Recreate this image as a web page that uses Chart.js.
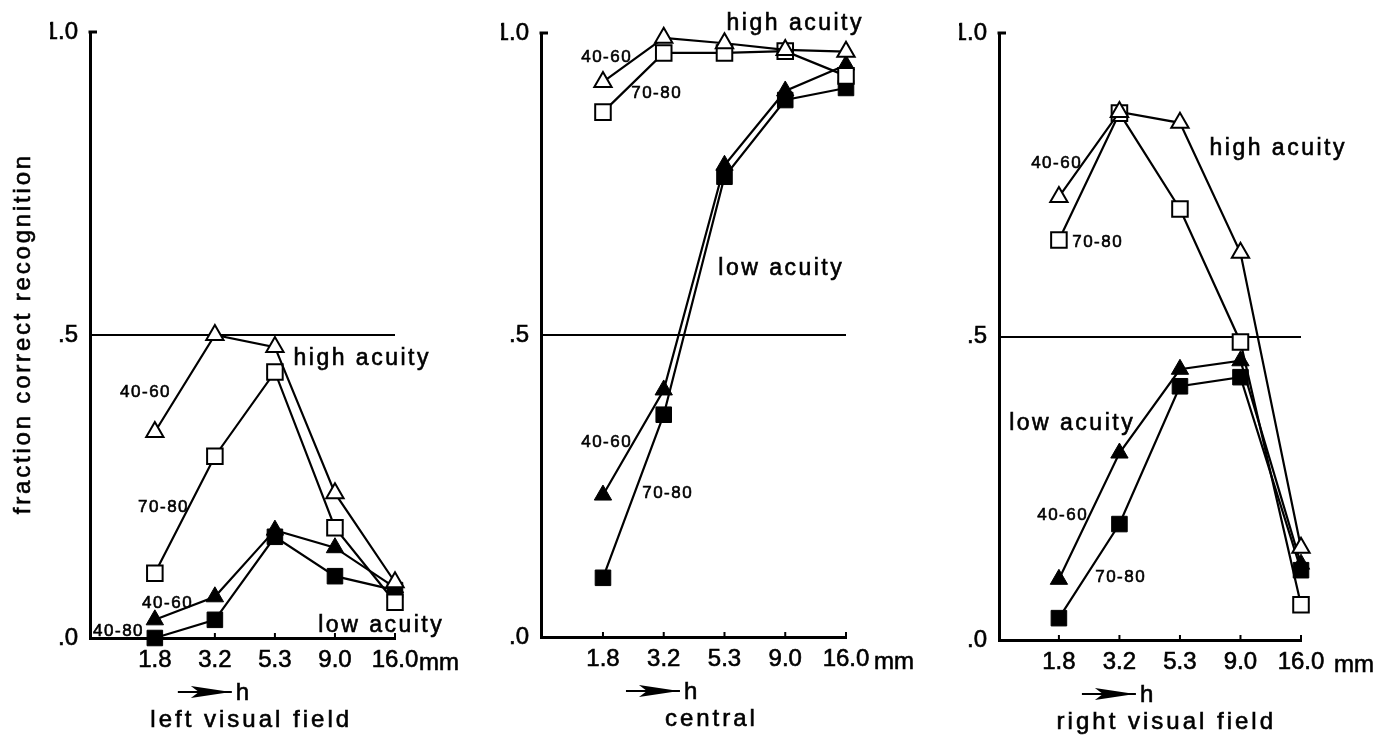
<!DOCTYPE html>
<html>
<head>
<meta charset="utf-8">
<title>Fraction correct recognition</title>
<script src="https://cdn.jsdelivr.net/npm/chart.js@4.4.0/dist/chart.umd.min.js"></script>
<style>
  html, body { margin: 0; padding: 0; background: #fff; }
  body { width: 1383px; height: 740px; position: relative; overflow: hidden; }
  canvas { position: absolute; top: 0; }
</style>
</head>
<body>
<canvas id="leftField" width="460" height="740" style="left:0px"></canvas>
<canvas id="centralField" width="460" height="740" style="left:460px"></canvas>
<canvas id="rightField" width="463" height="740" style="left:920px"></canvas>
<script>
const FONT = '"Liberation Sans", Arial, Helvetica, sans-serif';

// stimulus height h (mm)
const categories = ['1.8', '3.2', '5.3', '9.0', '16.0'];
const yTicks = [0, 0.5, 1.0];
const yTickLabels = ['.0', '.5', '1.0'];

// left visual field
const leftHigh4060 = [0.340, 0.500, 0.480, 0.239, 0.092];
const leftHigh7080 = [0.107, 0.300, 0.439, 0.182, 0.059];
const leftLow4060  = [0.030, 0.068, 0.178, 0.149, 0.083];
const leftLow7080  = [0.000, 0.030, 0.167, 0.102, 0.079];

// central
const centralHigh4060 = [0.919, 0.992, 0.983, 0.972, 0.969];
const centralHigh7080 = [0.869, 0.967, 0.967, 0.970, 0.929];
const centralLow4060  = [0.235, 0.409, 0.781, 0.904, 0.947];
const centralLow7080  = [0.098, 0.368, 0.762, 0.889, 0.909];

// right visual field
const rightHigh4060 = [0.730, 0.870, 0.852, 0.638, 0.152];
const rightHigh7080 = [0.659, 0.868, 0.710, 0.491, 0.058];
const rightLow4060  = [0.100, 0.308, 0.446, 0.460, 0.125];
const rightLow7080  = [0.036, 0.191, 0.418, 0.433, 0.115];

// in-plot annotations, anchored in data units (x = category index, y = fraction)
const leftNotes = [
  { text: '40-60', x: -0.167, y: 0.398, big: false },
  { text: '70-80', x: 0.133, y: 0.208, big: false },
  { text: '40-60', x: 0.200, y: 0.050, big: false },
  { text: '40-80', x: -0.617, y: 0.003, big: false },
  { text: 'high acuity', x: 3.433, y: 0.450, big: true },
  { text: 'low acuity', x: 3.750, y: 0.010, big: true }
];
const centralNotes = [
  { text: 'high acuity', x: 3.144, y: 1.005, big: true },
  { text: '40-60', x: 0.049, y: 0.952, big: false },
  { text: '70-80', x: 0.872, y: 0.892, big: false },
  { text: 'low acuity', x: 2.914, y: 0.599, big: true },
  { text: '40-60', x: 0.049, y: 0.315, big: false },
  { text: '70-80', x: 1.053, y: 0.230, big: false }
];
const rightNotes = [
  { text: '40-60', x: -0.050, y: 0.778, big: false },
  { text: '70-80', x: 0.628, y: 0.647, big: false },
  { text: 'high acuity', x: 3.603, y: 0.799, big: true },
  { text: 'low acuity', x: 0.198, y: 0.346, big: true },
  { text: '40-60', x: 0.050, y: 0.198, big: false },
  { text: '70-80', x: 1.008, y: 0.096, big: false }
];

const openTriangle = { pointStyle: 'triangle', pointRadius: 10, pointBackgroundColor: '#fff', pointBorderColor: '#000', pointBorderWidth: 2 };
const openSquare   = { pointStyle: 'rect', pointRadius: 11, pointBackgroundColor: '#fff', pointBorderColor: '#000', pointBorderWidth: 2 };
const solidTriangle = { pointStyle: 'triangle', pointRadius: 10, pointBackgroundColor: '#000', pointBorderColor: '#000', pointBorderWidth: 1 };
const solidSquare   = { pointStyle: 'rect', pointRadius: 11, pointBackgroundColor: '#000', pointBorderColor: '#000', pointBorderWidth: 1 };

function series(label, values, marker) {
  return Object.assign({
    label,
    data: values.map((v, i) => ({ x: i, y: v })),
    borderColor: '#000',
    borderWidth: 2.2,
    fill: false,
    tension: 0,
    clip: false,
    pointHoverRadius: 0
  }, marker);
}

function spacedText(ctx, text, cx, baseline, size, spacing) {
  ctx.font = size + 'px ' + FONT;
  ctx.letterSpacing = spacing + 'px';
  const w = ctx.measureText(text).width - spacing;
  ctx.textAlign = 'left';
  ctx.textBaseline = 'alphabetic';
  ctx.lineWidth = 0.6;
  ctx.strokeText(text, cx - w / 2, baseline);
  ctx.fillText(text, cx - w / 2, baseline);
  ctx.letterSpacing = '0px';
}

function decorations(cfg) {
  return {
    id: 'panelDecor',
    afterDraw(chart) {
      const { ctx, chartArea: a, scales: { x, y } } = chart;
      ctx.save();
      ctx.fillStyle = '#000';
      ctx.strokeStyle = '#000';

      // short cap at the top of the y axis
      ctx.lineWidth = 3;
      ctx.beginPath();
      ctx.moveTo(a.left - 1.5, y.getPixelForValue(1));
      ctx.lineTo(a.left + 7, y.getPixelForValue(1));
      ctx.stroke();

      // inward tick marks on the x axis
      ctx.lineWidth = 2;
      ctx.beginPath();
      categories.forEach((c, i) => {
        const px = x.getPixelForValue(i);
        ctx.moveTo(px, a.bottom);
        ctx.lineTo(px, a.bottom - 5);
      });
      ctx.stroke();

      // series annotations
      cfg.notes.forEach(n => {
        const px = x.getPixelForValue(n.x);
        const py = y.getPixelForValue(n.y);
        if (n.big) spacedText(ctx, n.text, px, py, 23, 2.5);
        else spacedText(ctx, n.text, px, py, 17, 1.5);
      });

      // unit after the last tick label
      ctx.font = '24px ' + FONT;
      ctx.textAlign = 'left';
      ctx.textBaseline = 'alphabetic';
      ctx.lineWidth = 0.6;
      ctx.strokeText('mm', x.getPixelForValue(4) + cfg.unitGap, a.bottom + 32);
      ctx.fillText('mm', x.getPixelForValue(4) + cfg.unitGap, a.bottom + 32);

      // arrow  ──►  h
      const sx = x.getPixelForValue(0) + 23;
      const ay = a.bottom + 54;
      ctx.lineWidth = 2.2;
      ctx.beginPath();
      ctx.moveTo(sx, ay);
      ctx.lineTo(sx + 54, ay);
      ctx.stroke();
      ctx.beginPath();
      ctx.moveTo(sx + 13, ay - 6);
      ctx.lineTo(sx + 53, ay);
      ctx.lineTo(sx + 13, ay + 6);
      ctx.lineTo(sx + 21, ay);
      ctx.closePath();
      ctx.fill();
      ctx.font = '24px ' + FONT;
      ctx.lineWidth = 0.6;
      ctx.strokeText('h', sx + 58, ay + 8);
      ctx.fillText('h', sx + 58, ay + 8);

      // panel caption
      spacedText(ctx, cfg.title, x.getPixelForValue(cfg.titleAt), a.bottom + 89, 24, 3);

      // y axis title
      if (cfg.yTitle) {
        ctx.save();
        ctx.translate(30, y.getPixelForValue(0.5));
        ctx.rotate(-Math.PI / 2);
        spacedText(ctx, cfg.yTitle, 0, 0, 24, 2.8);
        ctx.restore();
      }
      ctx.restore();
    }
  };
}

function makePanel(id, sets, xMin, padding, cfg) {
  return new Chart(document.getElementById(id), {
    type: 'line',
    data: {
      datasets: [
        series('high acuity 40-60', sets[0], openTriangle),
        series('high acuity 70-80', sets[1], openSquare),
        series('low acuity 40-60', sets[2], solidTriangle),
        series('low acuity 70-80', sets[3], solidSquare)
      ]
    },
    options: {
      responsive: false,
      animation: false,
      events: [],
      layout: { padding },
      plugins: { legend: { display: false }, tooltip: { enabled: false } },
      scales: {
        x: {
          type: 'linear',
          min: xMin,
          max: 4,
          afterFit: s => { s.height = 40; },
          afterBuildTicks: s => { s.ticks = categories.map((c, i) => ({ value: i })); },
          ticks: {
            callback: (v, i) => categories[i],
            font: { family: FONT, size: 24 },
            color: '#000',
            textStrokeColor: '#000',
            textStrokeWidth: 0.6,
            padding: 8,
            maxRotation: 0,
            autoSkip: false
          },
          grid: { display: false, drawTicks: false },
          border: { display: true, color: '#000', width: 3 }
        },
        y: {
          min: 0,
          max: 1,
          afterFit: s => { s.width = 40; },
          afterBuildTicks: s => { s.ticks = yTicks.map(v => ({ value: v })); },
          ticks: {
            callback: (v, i) => yTickLabels[i],
            font: { family: FONT, size: 24 },
            color: '#000',
            textStrokeColor: '#000',
            textStrokeWidth: 0.6,
            padding: 12
          },
          grid: {
            drawTicks: false,
            lineWidth: 2,
            color: c => (c.tick && c.tick.value === 0.5) ? '#000' : 'rgba(0,0,0,0)'
          },
          border: { display: true, color: '#000', width: 3 }
        }
      }
    },
    plugins: [decorations(cfg)]
  });
}

makePanel('leftField',
  [leftHigh4060, leftHigh7080, leftLow4060, leftLow7080],
  -1.08, { left: 50, right: 65, top: 32, bottom: 62 },
  { notes: leftNotes, title: 'left visual field', titleAt: 1.58, unitGap: 24, yTitle: 'fraction correct recognition' });

makePanel('centralField',
  [centralHigh4060, centralHigh7080, centralLow4060, centralLow7080],
  -1.02, { left: 41, right: 74, top: 33, bottom: 63 },
  { notes: centralNotes, title: 'central', titleAt: 1.76, unitGap: 28 });

makePanel('rightField',
  [rightHigh4060, rightHigh7080, rightLow4060, rightLow7080],
  -0.99, { left: 39, right: 82, top: 33, bottom: 60 },
  { notes: rightNotes, title: 'right visual field', titleAt: 1.75, unitGap: 33 });
</script>
</body>
</html>
